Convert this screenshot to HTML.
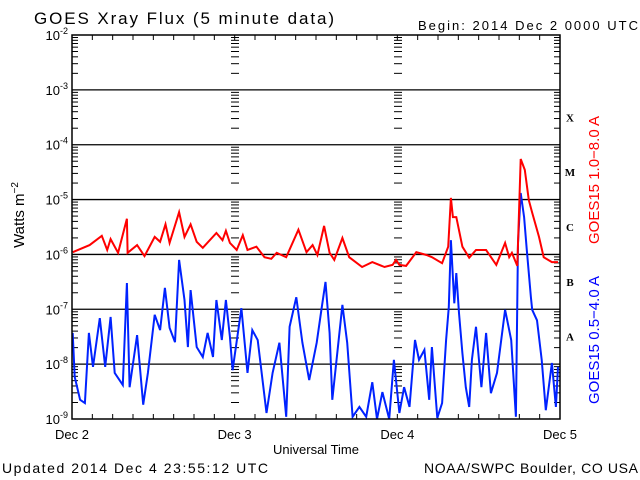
<!DOCTYPE html>
<html><head><meta charset="utf-8"><style>
html,body{margin:0;padding:0;background:#fff;}
svg{display:block;font-family:"Liberation Sans",sans-serif;}
</style></head><body>
<svg id="chart" width="640" height="480" viewBox="0 0 640 480">
<text x="34" y="24" font-size="17" textLength="300" lengthAdjust="spacing">GOES Xray Flux (5 minute data)</text>
<text x="418" y="30" font-size="13" textLength="220" lengthAdjust="spacing">Begin:  2014 Dec 2 0000 UTC</text>
<g id="axes"></g>
<g id="series"></g>
<rect x="72" y="35" width="488" height="384" fill="none" stroke="#000" stroke-width="1.5"/>
<text transform="translate(24,215) rotate(-90)" text-anchor="middle" font-size="15">Watts m<tspan dy="-6" font-size="10">−2</tspan></text>
<text x="316" y="454" text-anchor="middle" font-size="13">Universal Time</text>
<text transform="translate(599,180) rotate(-90)" text-anchor="middle" font-size="15" fill="#f00">GOES15 1.0−8.0 A</text>
<text transform="translate(599,340) rotate(-90)" text-anchor="middle" font-size="15" fill="#00f">GOES15 0.5−4.0 A</text>
<text x="2" y="473" font-size="14" textLength="266" lengthAdjust="spacing">Updated 2014 Dec  4 23:55:12 UTC</text>
<text x="424" y="473" font-size="14" textLength="214" lengthAdjust="spacing">NOAA/SWPC Boulder, CO USA</text>
</svg>
<script>
const dayLabels = ["Dec 2","Dec 3","Dec 4","Dec 5"];
const decadeExps = [-2,-3,-4,-5,-6,-7,-8,-9];
const classLetters = ["X","M","C","B","A"];
const classExps = [-4,-5,-6,-7,-8];
const longHours = [0.1,2.6,4.4,5.2,5.7,6.8,8.1,8.2,9.6,10.7,12.2,13.0,13.8,14.4,15.8,16.6,17.5,18.4,19.3,21.3,22.2,22.7,23.3,24.3,25.2,25.9,27.2,28.4,29.4,30.2,31.6,33.4,34.6,35.5,36.2,37.2,38.0,38.7,39.9,40.9,42.8,44.3,46.1,47.3,47.8,48.3,49.3,50.8,52.3,53.1,54.6,55.5,55.9,56.2,56.7,57.6,58.6,59.6,61.1,62.6,63.9,64.5,64.9,65.7,66.2,66.8,67.4,67.9,68.9,69.6,70.8,71.7];
const longLogFlux = [-5.96,-5.83,-5.66,-5.92,-5.72,-5.97,-5.35,-5.97,-5.83,-6.03,-5.68,-5.77,-5.45,-5.79,-5.23,-5.68,-5.45,-5.77,-5.88,-5.61,-5.74,-5.57,-5.79,-5.92,-5.65,-5.92,-5.86,-6.05,-6.08,-5.97,-6.05,-5.55,-5.96,-5.83,-6.01,-5.48,-5.97,-6.10,-5.70,-6.05,-6.23,-6.14,-6.23,-6.19,-6.10,-6.19,-6.21,-5.96,-6.01,-6.05,-6.16,-5.86,-4.97,-5.32,-5.32,-5.86,-6.06,-5.92,-5.92,-6.19,-5.79,-6.05,-5.97,-6.21,-4.26,-4.46,-5.01,-5.24,-5.68,-6.05,-6.14,-6.14];
const shortHours = [0.1,0.4,1.2,1.9,2.5,3.1,4.1,4.9,5.7,6.3,7.5,8.1,8.5,9.6,10.5,11.2,12.2,13.0,13.7,14.4,15.2,15.8,16.6,17.1,17.5,18.4,19.3,20.0,20.8,21.3,22.1,22.7,23.3,23.7,25.0,25.9,26.6,27.4,28.7,29.6,30.6,31.6,32.1,33.1,34.0,35.0,36.1,36.8,37.4,38.0,38.4,39.9,40.6,41.4,42.4,43.4,44.3,45.0,45.8,46.8,47.5,48.3,49.0,49.8,50.6,51.2,52.0,52.7,53.1,53.9,54.6,55.2,55.6,55.9,56.4,56.7,57.1,57.6,58.1,58.6,59.0,59.6,60.4,61.1,61.8,62.7,63.9,64.8,65.5,65.8,66.2,66.7,67.1,67.7,67.9,68.6,69.3,69.9,70.8,71.4,71.7];
const shortLogFlux = [-7.43,-8.23,-8.65,-8.71,-7.43,-8.05,-7.16,-8.05,-7.14,-8.16,-8.38,-6.52,-8.42,-7.47,-8.74,-8.16,-7.10,-7.38,-6.61,-7.34,-7.60,-6.10,-6.83,-7.69,-6.65,-7.69,-7.87,-7.43,-7.87,-6.83,-7.56,-6.83,-7.50,-8.11,-6.98,-8.16,-7.38,-7.56,-8.89,-8.16,-7.61,-8.96,-7.32,-6.78,-7.61,-8.29,-7.61,-7.01,-6.50,-7.43,-8.65,-6.92,-7.61,-8.96,-8.78,-8.96,-8.33,-9.02,-8.51,-9.02,-7.92,-8.89,-8.42,-8.78,-7.56,-7.92,-7.74,-8.65,-7.69,-8.98,-8.71,-7.56,-6.96,-5.74,-6.89,-6.34,-7.07,-7.80,-8.42,-8.78,-7.92,-7.32,-8.42,-7.43,-8.53,-8.16,-7.01,-7.56,-8.96,-5.79,-4.88,-5.32,-5.92,-6.78,-7.01,-7.20,-7.92,-8.84,-7.98,-8.78,-8.05];

const X0=72,X1=560,Y0=35,Y1=419;
const xScale=h=>X0+(h/72)*(X1-X0);
const yScale=e=>Y0+(-2-e)/7*(Y1-Y0);
const NS="http://www.w3.org/2000/svg";
function mk(tag,attrs,parent){const el=document.createElementNS(NS,tag);for(const k in attrs)el.setAttribute(k,attrs[k]);parent.appendChild(el);return el;}
const axes=document.getElementById('axes');
const series=document.getElementById('series');

decadeExps.forEach(e=>{
  const y=yScale(e);
  if(e!==-2&&e!==-9){
    const ln=mk('line',{x1:X0,x2:X1,y1:y,y2:y,stroke:'#000','stroke-width':1.3},axes);
    
    
  }
  const t=mk('text',{x:X0-4,y:y+5,'text-anchor':'end','font-size':13},axes);
  
  
  t.innerHTML='10<tspan dy="-6" font-size="9">'+e+'</tspan>';
  if(e>-9){
    for(let m=2;m<=9;m++){
      const yy=yScale(e-1+Math.log10(m));
      [X0,235,398].forEach(xx=>{
        mk('line',{x1:xx,x2:xx+(xx===X0?6:4),y1:yy,y2:yy,stroke:'#000','stroke-width':1},axes);
        if(xx!==X0) mk('line',{x1:xx-4,x2:xx,y1:yy,y2:yy,stroke:'#000','stroke-width':1},axes);
      });
      mk('line',{x1:X1-6,x2:X1,y1:yy,y2:yy,stroke:'#000','stroke-width':1},axes);
    }
  }
});
for(let h=0;h<=72;h+=3){
  const x=xScale(h);
  mk('line',{x1:x,x2:x,y1:Y0,y2:Y0+5,stroke:'#000'},axes);
  mk('line',{x1:x,x2:x,y1:Y1-5,y2:Y1,stroke:'#000'},axes);
}
dayLabels.forEach((d,i)=>{
  const t=mk('text',{x:xScale(i*24),y:439,'text-anchor':'middle','font-size':13},axes);
  
  
  t.textContent=d;
});
classLetters.forEach((c,i)=>{
  const t=mk('text',{x:570,y:yScale(classExps[i]+0.5)+4,'text-anchor':'middle','font-size':11,'font-weight':'bold','font-family':'Liberation Serif, serif'},axes);
  
  
  t.textContent=c;
});
function clampY(e){return Math.min(Y1,Math.max(Y0,yScale(e)));}
function draw(hours,vals,color,name){
  let d='';
  hours.forEach((h,i)=>{d+=(i?'L':'M')+xScale(h).toFixed(1)+','+clampY(vals[i]).toFixed(1);});
  const p=mk('path',{d:d,fill:'none',stroke:color,'stroke-width':2,'stroke-linejoin':'miter'},series);
  
  
}
draw(shortHours,shortLogFlux,'#0022ff','series-short-channel');
draw(longHours,longLogFlux,'#ff0000','series-long-channel');
</script>
</body></html>
